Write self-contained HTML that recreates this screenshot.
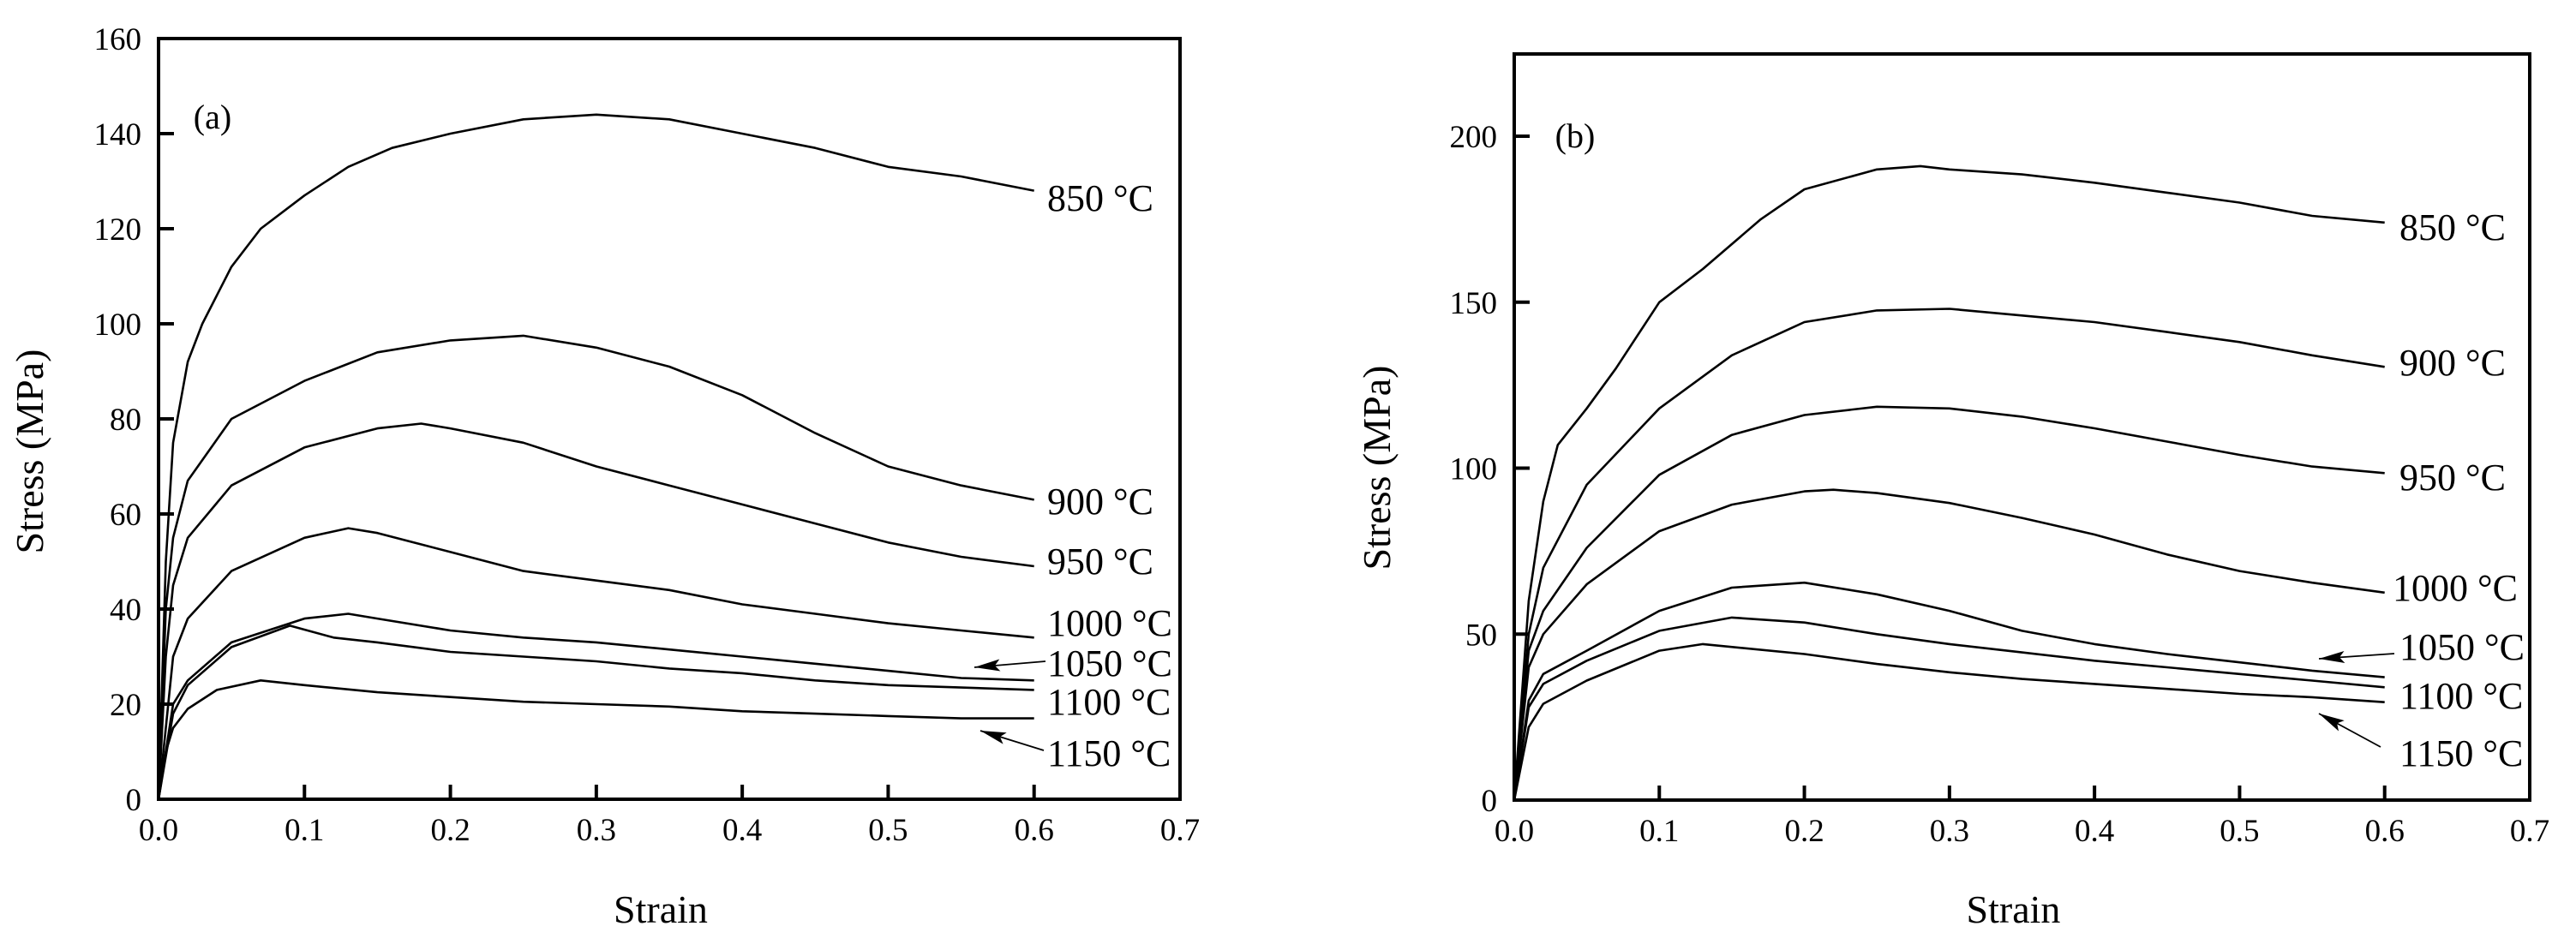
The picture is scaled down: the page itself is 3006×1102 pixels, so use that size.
<!DOCTYPE html>
<html><head><meta charset="utf-8"><style>
html,body{margin:0;padding:0;background:#fff;}
svg{display:block;font-family:"Liberation Serif",serif;}
</style></head><body>
<svg id="chart" width="3006" height="1102" viewBox="0 0 3006 1102" xmlns="http://www.w3.org/2000/svg"></svg>
<script>
// ---- Data: panel (a) ----
const tempsA = ["850 °C","900 °C","950 °C","1000 °C","1050 °C","1100 °C","1150 °C"];
const strainA850 = [0,0.005,0.01,0.02,0.03,0.05,0.07,0.1,0.13,0.16,0.2,0.25,0.3,0.35,0.4,0.45,0.5,0.55,0.6];
const stressA850 = [0,50,75,92,100,112,120,127,133,137,140,143,144,143,140,137,133,131,128];
const strainA900 = [0,0.005,0.01,0.02,0.05,0.1,0.15,0.2,0.25,0.3,0.35,0.4,0.45,0.5,0.55,0.6];
const stressA900 = [0,40,55,67,80,88,94,96.5,97.5,95,91,85,77,70,66,63];
const strainA950 = [0,0.005,0.01,0.02,0.05,0.1,0.15,0.18,0.2,0.25,0.3,0.35,0.4,0.45,0.5,0.55,0.6];
const stressA950 = [0,30,45,55,66,74,78,79,78,75,70,66,62,58,54,51,49];
const strainA1000 = [0,0.01,0.02,0.05,0.1,0.13,0.15,0.2,0.25,0.3,0.35,0.4,0.45,0.5,0.55,0.6];
const stressA1000 = [0,30,38,48,55,57,56,52,48,46,44,41,39,37,35.5,34];
const strainA1050 = [0,0.01,0.02,0.05,0.1,0.13,0.15,0.2,0.25,0.3,0.35,0.4,0.45,0.5,0.55,0.6];
const stressA1050 = [0,20,25,33,38,39,38,35.5,34,33,31.5,30,28.5,27,25.5,25];
const strainA1100 = [0,0.01,0.02,0.05,0.09,0.12,0.15,0.2,0.25,0.3,0.35,0.4,0.45,0.5,0.55,0.6];
const stressA1100 = [0,18,24,32,36.5,34,33,31,30,29,27.5,26.5,25,24,23.5,23];
const strainA1150 = [0,0.005,0.01,0.02,0.04,0.07,0.1,0.15,0.2,0.25,0.3,0.35,0.4,0.45,0.5,0.55,0.6];
const stressA1150 = [0,10,15,19,23,25,24,22.5,21.5,20.5,20,19.5,18.5,18,17.5,17,17];
const yTicksA = [0,20,40,60,80,100,120,140,160];
// ---- Data: panel (b) ----
const strainB850 = [0,0.01,0.02,0.03,0.05,0.07,0.1,0.13,0.17,0.2,0.25,0.28,0.3,0.35,0.4,0.45,0.5,0.55,0.6];
const stressB850 = [0,60,90,107,118,130,150,160,175,184,190,191,190,188.5,186,183,180,176,174];
const strainB900 = [0,0.01,0.02,0.05,0.1,0.15,0.2,0.25,0.3,0.35,0.4,0.45,0.5,0.55,0.6];
const stressB900 = [0,50,70,95,118,134,144,147.5,148,146,144,141,138,134,130.5];
const strainB950 = [0,0.01,0.02,0.05,0.1,0.15,0.2,0.25,0.3,0.35,0.4,0.45,0.5,0.55,0.6];
const stressB950 = [0,45,57,76,98,110,116,118.5,118,115.5,112,108,104,100.5,98.5];
const strainB1000 = [0,0.01,0.02,0.05,0.1,0.15,0.2,0.22,0.25,0.3,0.35,0.4,0.45,0.5,0.55,0.6];
const stressB1000 = [0,40,50,65,81,89,93,93.5,92.5,89.5,85,80,74,69,65.5,62.5];
const strainB1050 = [0,0.01,0.02,0.05,0.1,0.15,0.2,0.25,0.3,0.35,0.4,0.45,0.5,0.55,0.6];
const stressB1050 = [0,30,38,45,57,64,65.5,62,57,51,47,44,41.5,39,37];
const strainB1100 = [0,0.01,0.02,0.05,0.1,0.15,0.2,0.25,0.3,0.35,0.4,0.45,0.5,0.55,0.6];
const stressB1100 = [0,28,35,42,51,55,53.5,50,47,44.5,42,40,38,36,34];
const strainB1150 = [0,0.01,0.02,0.05,0.1,0.13,0.2,0.25,0.3,0.35,0.4,0.45,0.5,0.55,0.6];
const stressB1150 = [0,22,29,36,45,47,44,41,38.5,36.5,35,33.5,32,31,29.5];
const yTicksB = [0,50,100,150,200];
const xTicks = [0,0.1,0.2,0.3,0.4,0.5,0.6,0.7];
const xTickLabels = ["0.0","0.1","0.2","0.3","0.4","0.5","0.6","0.7"];

const NS = "http://www.w3.org/2000/svg";
const svg = document.getElementById('chart');
function mk(tag, attrs, parent){
  const e = document.createElementNS(NS, tag);
  for (const k in attrs) e.setAttribute(k, attrs[k]);
  (parent||svg).appendChild(e);
  return e;
}
const defs = mk('defs', {});
const marker = mk('marker', {id:'arrow', markerWidth:'32', markerHeight:'16', refX:'30', refY:'7', orient:'auto', markerUnits:'userSpaceOnUse', viewBox:'0 0 32 16'}, defs);
mk('path', {d:'M30,7 L0,0 L6,7 L0,14 Z', fill:'#000'}, marker);

function panel(cfg){
  const g = mk('g', {});
  
  
  const sx = v => cfg.x0 + (v - 0) / 0.7 * (cfg.x1 - cfg.x0);
  const sy = v => cfg.y0 - v / cfg.ymax * (cfg.y0 - cfg.y1);
  const frame = mk('rect', {x:cfg.x0, y:cfg.top, width:cfg.x1-cfg.x0, height:cfg.y0-cfg.top, fill:'none', stroke:'#000', 'stroke-width':4}, g);
  
  
  xTicks.forEach((t,i)=>{
    const X = sx(t);
    const tk = mk('line', {x1:X, x2:X, y1:cfg.y0, y2:cfg.y0-17, stroke:'#000', 'stroke-width':4}, g);
    
    
    const tl = mk('text', {x:X, y:cfg.y0+48, 'font-size':37, 'text-anchor':'middle'}, g);
    tl.textContent = xTickLabels[i];
    
    
  });
  cfg.yTicks.forEach(t=>{
    const Y = sy(t);
    const tk = mk('line', {x1:cfg.x0, x2:cfg.x0+cfg.ytickDir*18, y1:Y, y2:Y, stroke:'#000', 'stroke-width':4}, g);
    
    
    const tl = mk('text', {x:cfg.x0-20, y:Y+13, 'font-size':37, 'text-anchor':'end'}, g);
    tl.textContent = String(t);
    
    
  });
  cfg.series.forEach((s,i)=>{
    let d = '';
    s[0].forEach((v,j)=>{ d += (j?'L':'M') + sx(v).toFixed(1) + ',' + sy(s[1][j]).toFixed(1); });
    const p = mk('path', {d:d, fill:'none', stroke:'#000', 'stroke-width':2.6, 'stroke-linejoin':'round'}, g);
    
    
  });
  cfg.labels.forEach((l,i)=>{
    const t = mk('text', {x:l[0], y:l[1]+15, 'font-size':44}, g);
    t.textContent = tempsA[i];
    
    
  });
  cfg.arrows.forEach(a=>{
    const ar = mk('line', {x1:a[0], y1:a[1], x2:a[2], y2:a[3], stroke:'#000', 'stroke-width':1.8, 'marker-end':'url(#arrow)'}, g);
    
    
  });
  const pl = mk('text', {x:cfg.tag[0], y:cfg.tag[1]+14, 'font-size':40, 'text-anchor':'middle'}, g);
  pl.textContent = cfg.tagText;
  
  
  const xt = mk('text', {x:(cfg.x0+cfg.x1)/2 - 10, y:1077, 'font-size':46, 'text-anchor':'middle'}, g);
  xt.textContent = 'Strain';
  
  
  const yt = mk('text', {x:0, y:0, 'font-size':46, 'text-anchor':'middle', transform:'translate('+(cfg.ytitle[0]+16)+','+cfg.ytitle[1]+') rotate(-90)'}, g);
  yt.textContent = 'Stress (MPa)';
  
  
}

panel({
  name:'panel-a', x0:185, x1:1377, y0:933, top:45, y1:45, ymax:160, yTicks:yTicksA, ytickDir:1,
  series:[[strainA850,stressA850],[strainA900,stressA900],[strainA950,stressA950],[strainA1000,stressA1000],[strainA1050,stressA1050],[strainA1100,stressA1100],[strainA1150,stressA1150]],
  labels:[[1222,231],[1222,585],[1222,655],[1222,727],[1222,774],[1222,819],[1222,879]],
  arrows:[[1220,772,1137,779],[1218,876,1144,853]],
  tag:[248,136], tagText:'(a)', ytitle:[34,527]
});
panel({
  name:'panel-b', x0:1767, x1:2952, y0:934, top:63, y1:159, ymax:200, yTicks:yTicksB, ytickDir:1,
  series:[[strainB850,stressB850],[strainB900,stressB900],[strainB950,stressB950],[strainB1000,stressB1000],[strainB1050,stressB1050],[strainB1100,stressB1100],[strainB1150,stressB1150]],
  labels:[[2800,265],[2800,423],[2800,557],[2792,686],[2800,755],[2800,812],[2800,879]],
  arrows:[[2794,763,2706,769],[2778,872,2706,833]],
  tag:[1838,158], tagText:'(b)', ytitle:[1606,546]
});
</script>
</body></html>
